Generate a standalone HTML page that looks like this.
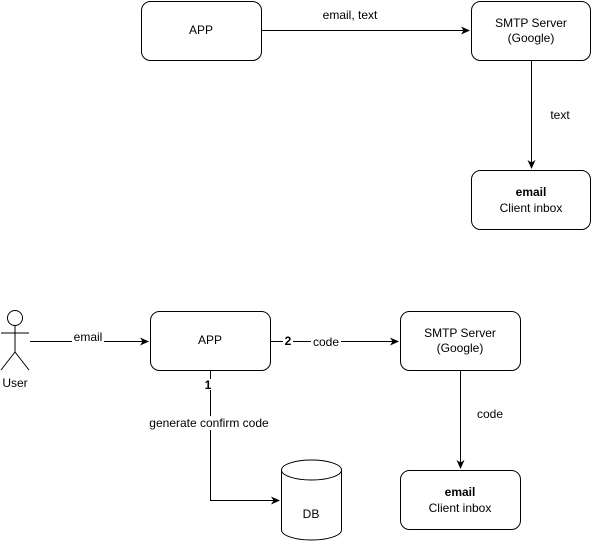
<!DOCTYPE html>
<html><head><meta charset="utf-8"><style>
html,body{margin:0;padding:0;background:#fff;}
svg{display:block;font-family:"Liberation Sans",Arial,sans-serif;font-size:12px;}
</style></head><body>
<svg width="592" height="542" viewBox="0 0 592 542" xmlns="http://www.w3.org/2000/svg">
<defs><marker id="a" markerWidth="10" markerHeight="10" refX="8" refY="5" orient="auto" markerUnits="userSpaceOnUse"><path d="M0,1 L9,5 L0,9 L2.5,5 Z" fill="#000"/></marker></defs>
<g fill="#fff" stroke="#000" stroke-width="1">
<rect x="141.5" y="1.5" width="120" height="59" rx="9"/>
<rect x="471.5" y="1.5" width="119" height="59" rx="9"/>
<rect x="471.5" y="170.5" width="119" height="59" rx="9"/>
<rect x="150.5" y="311.5" width="120" height="59" rx="9"/>
<rect x="400.5" y="311.5" width="120" height="59" rx="9"/>
<rect x="400.5" y="470.5" width="120" height="59" rx="9"/>
</g>
<g stroke="#000" fill="none">
<line x1="261.5" y1="30.5" x2="469" y2="30.5" marker-end="url(#a)"/>
<line x1="531.5" y1="60.5" x2="531.5" y2="168" marker-end="url(#a)"/>
<line x1="30" y1="341.5" x2="148" y2="341.5" marker-end="url(#a)"/>
<line x1="270.5" y1="341.5" x2="398" y2="341.5" marker-end="url(#a)"/>
<line x1="460.5" y1="370.5" x2="460.5" y2="468" marker-end="url(#a)"/>
<polyline points="210.5,370.5 210.5,500.5 279,500.5" marker-end="url(#a)"/>
<circle cx="15" cy="318" r="7.5"/>
<line x1="15" y1="325.5" x2="15" y2="352"/>
<line x1="1" y1="333" x2="29" y2="333"/>
<line x1="15" y1="352" x2="1" y2="370"/>
<line x1="15" y1="352" x2="29" y2="370"/>
<path d="M281.5,470 L281.5,530 A30,10 0 0 0 341.5,530 L341.5,470 A30,10 0 0 0 281.5,470 A30,10 0 0 0 341.5,470" fill="#fff"/>
</g>
<g fill="#000" text-anchor="middle">
<text x="201" y="34">APP</text>
<text x="531" y="27">SMTP Server</text>
<text x="531" y="42">(Google)</text>
<text x="531" y="196" font-weight="bold">email</text>
<text x="531" y="212">Client inbox</text>
<text x="350" y="19">email, text</text>
<text x="560" y="119">text</text>
<text x="210" y="344">APP</text>
<text x="460" y="337">SMTP Server</text>
<text x="460" y="352">(Google)</text>
<text x="460" y="496" font-weight="bold">email</text>
<text x="460" y="512">Client inbox</text>
<text x="15" y="387">User</text>
<rect x="72" y="333" width="32" height="10" fill="#fff"/>
<text x="88" y="341">email</text>
<rect x="283" y="336" width="10" height="11" fill="#fff"/>
<text x="288" y="345" font-weight="bold">2</text>
<rect x="311" y="337" width="30" height="11" fill="#fff"/>
<text x="326" y="346">code</text>
<text x="490" y="418">code</text>
<rect x="203" y="379" width="10" height="11" fill="#fff"/>
<text x="208" y="389" font-weight="bold">1</text>
<rect x="149" y="416" width="122" height="14" fill="#fff"/>
<text x="209" y="427">generate confirm code</text>
<text x="311" y="518">DB</text>
</g>
</svg>
</body></html>
